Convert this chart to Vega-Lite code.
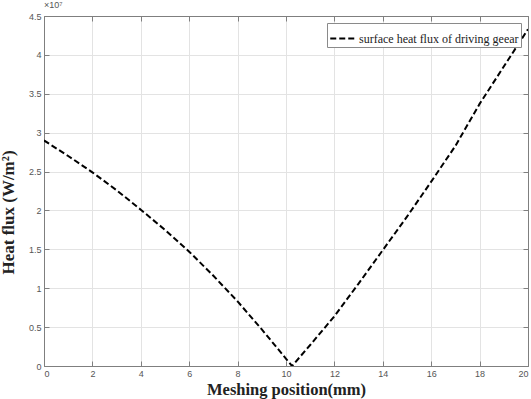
{
  "$schema": "https://vega.github.io/schema/vega-lite/v6.json",
  "autosize": "none",
  "width": 484,
  "height": 350,
  "padding": {"left": 44, "top": 16, "right": 3, "bottom": 33},
  "background": "white",
  "title": {"text": "×10⁷", "anchor": "start", "frame": "group", "fontSize": 9, "fontWeight": "normal", "color": "#555555", "font": "Liberation Sans", "offset": 2},
  "config": {
    "view": {"stroke": null},
    "axis": {"labelFont": "Liberation Sans", "labelFontSize": 9, "labelColor": "#555555", "domainColor": "#7f7f7f", "tickColor": "#7f7f7f", "gridColor": "#e3e3e3", "titleFont": "Liberation Serif", "titleFontWeight": "bold", "titleFontSize": 17, "titleColor": "#222222"}
  },
  "data": {"values": [
    {"pos": 0, "flux": 29000000, "series": "surface heat flux of driving geear"},
    {"pos": 1, "flux": 27000000, "series": "surface heat flux of driving geear"},
    {"pos": 2, "flux": 24900000, "series": "surface heat flux of driving geear"},
    {"pos": 3, "flux": 22600000, "series": "surface heat flux of driving geear"},
    {"pos": 4, "flux": 20100000, "series": "surface heat flux of driving geear"},
    {"pos": 5, "flux": 17500000, "series": "surface heat flux of driving geear"},
    {"pos": 6, "flux": 14700000, "series": "surface heat flux of driving geear"},
    {"pos": 7, "flux": 11600000, "series": "surface heat flux of driving geear"},
    {"pos": 8, "flux": 8300000, "series": "surface heat flux of driving geear"},
    {"pos": 9, "flux": 4700000, "series": "surface heat flux of driving geear"},
    {"pos": 10.25, "flux": 0, "series": "surface heat flux of driving geear"},
    {"pos": 11, "flux": 2700000, "series": "surface heat flux of driving geear"},
    {"pos": 12, "flux": 6400000, "series": "surface heat flux of driving geear"},
    {"pos": 13, "flux": 10600000, "series": "surface heat flux of driving geear"},
    {"pos": 14, "flux": 14900000, "series": "surface heat flux of driving geear"},
    {"pos": 15, "flux": 19200000, "series": "surface heat flux of driving geear"},
    {"pos": 16, "flux": 23700000, "series": "surface heat flux of driving geear"},
    {"pos": 17, "flux": 28300000, "series": "surface heat flux of driving geear"},
    {"pos": 18, "flux": 33700000, "series": "surface heat flux of driving geear"},
    {"pos": 19, "flux": 38500000, "series": "surface heat flux of driving geear"},
    {"pos": 20, "flux": 43300000, "series": "surface heat flux of driving geear"}
  ]},
  "layer": [
    {
      "mark": {"type": "line", "strokeDash": [6, 3], "strokeWidth": 2, "clip": true},
      "encoding": {
        "x": {"field": "pos", "type": "quantitative", "scale": {"domain": [0, 20], "nice": false},
          "axis": {"title": "Meshing position(mm)", "orient": "bottom", "values": [0,2,4,6,8,10,12,14,16,18,20], "tickSize": -5, "labelPadding": 8, "titlePadding": 3, "titleFontSize": 16.5, "grid": true}},
        "y": {"field": "flux", "type": "quantitative", "scale": {"domain": [0, 45000000], "nice": false},
          "axis": {"title": "Heat flux (W/m²)", "orient": "left", "values": [0,5000000,10000000,15000000,20000000,25000000,30000000,35000000,40000000,45000000], "labelExpr": "format(datum.value/1e7, '.2~f')", "tickSize": -5, "labelPadding": 8, "titleX": -27, "titleY": 196, "grid": true}},
        "color": {"field": "series", "type": "nominal", "scale": {"range": ["#000000"]},
          "legend": {"title": null, "orient": "top-right", "offset": 7, "strokeColor": "#8a8a8a", "fillColor": "white", "padding": 2, "symbolType": "stroke", "symbolDash": [6, 3], "symbolStrokeWidth": 2, "symbolSize": 600, "labelFont": "Liberation Serif", "labelFontSize": 12, "labelColor": "#222222", "labelOffset": 3, "labelLimit": 400}}
      }
    },
    {
      "mark": {"type": "line", "opacity": 0},
      "encoding": {
        "x": {"field": "pos", "type": "quantitative", "axis": {"orient": "top", "title": null, "labels": false, "grid": false, "values": [0,2,4,6,8,10,12,14,16,18,20], "tickSize": -5}},
        "y": {"field": "flux", "type": "quantitative", "axis": {"orient": "right", "title": null, "labels": false, "grid": false, "values": [0,5000000,10000000,15000000,20000000,25000000,30000000,35000000,40000000,45000000], "tickSize": -5}}
      }
    }
  ],
  "resolve": {"axis": {"x": "independent", "y": "independent"}}
}
